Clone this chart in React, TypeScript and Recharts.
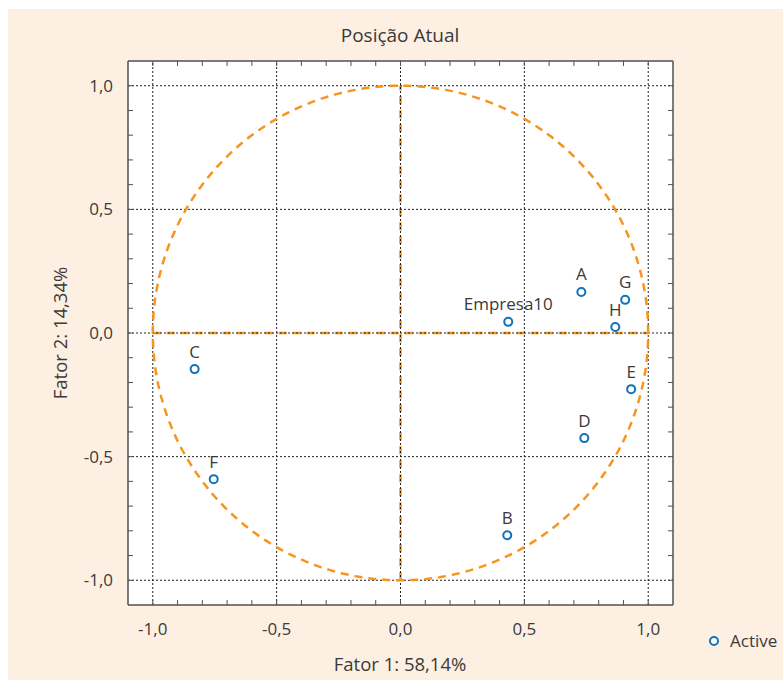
import React from 'react';
import {
  ComposedChart,
  Scatter,
  XAxis,
  YAxis,
  ReferenceLine,
  CartesianGrid,
  LabelList,
} from 'recharts';

// ---- data ----
const POINT_NAMES = ['A', 'G', 'H', 'E', 'D', 'B', 'Empresa10', 'C', 'F'];
const FACTOR1 = [0.73, 0.907, 0.867, 0.931, 0.742, 0.431, 0.435, -0.831, -0.754];
const FACTOR2 = [0.166, 0.134, 0.024, -0.227, -0.425, -0.818, 0.045, -0.146, -0.591];

const MINOR_TICKS = [
  -1.0, -0.9, -0.8, -0.7, -0.6, -0.5, -0.4, -0.3, -0.2, -0.1, 0,
  0.1, 0.2, 0.3, 0.4, 0.5, 0.6, 0.7, 0.8, 0.9, 1.0,
];
const MAJOR_VALUES = [-1.0, -0.5, 0, 0.5, 1.0];
const MAJOR_LABELS = ['-1,0', '-0,5', '0,0', '0,5', '1,0'];

const TITLE = 'Posição Atual';
const X_TITLE = 'Fator 1: 58,14%';
const Y_TITLE = 'Fator 2: 14,34%';
const LEGEND_LABEL = 'Active';

// unit correlation circle (radius 1)
const CIRCLE_STEPS = 240;
const circleData = Array.from({ length: CIRCLE_STEPS + 1 }, (_, i) => {
  const a = (i / CIRCLE_STEPS) * 2 * Math.PI;
  return { x: Math.cos(a), y: Math.sin(a) };
});

const pointData = POINT_NAMES.map((name, i) => ({ name, x: FACTOR1[i], y: FACTOR2[i] }));

const FONT = '"Open Sans", "Noto Sans", sans-serif';
const TEXT = '#3a3a3a';
const BLUE = '#1372b8';
const ORANGE = '#f7941d';
const FRAME = '#505050';
const BG = '#fdf0e3';

const W = 775;
const H = 671;
const MARGIN = { top: 51, right: 109, bottom: 74, left: 119 };

const labelFor = (v: number) => {
  const idx = MAJOR_VALUES.findIndex((m) => Math.abs(m - v) < 1e-6);
  return idx >= 0 ? MAJOR_LABELS[idx] : null;
};

const BottomTick = (props: any) => {
  const { x, y, payload } = props;
  const t = labelFor(payload.value);
  if (!t) return <g />;
  return (
    <text x={x} y={y + 12} textAnchor="middle" fontSize={17} fontFamily={FONT} fill={TEXT}>
      {t}
    </text>
  );
};

const LeftTick = (props: any) => {
  const { x, y, payload } = props;
  const t = labelFor(payload.value);
  if (!t) return <g />;
  return (
    <text x={x} y={y + 6} textAnchor="end" fontSize={17} fontFamily={FONT} fill={TEXT}>
      {t}
    </text>
  );
};

const NoTick = () => <g />;

const OpenCircle = (props: any) => {
  const { cx, cy } = props;
  if (cx == null || cy == null) return <g />;
  return <circle cx={cx} cy={cy} r={4} fill="#fff" stroke={BLUE} strokeWidth={2} />;
};

const NoShape = () => <g />;

export default function App() {
  return (
    <div style={{ position: 'absolute', left: 8, top: 9, width: W, height: H, background: BG }}>
      <ComposedChart width={W} height={H} margin={MARGIN}>
        <CartesianGrid fill="#ffffff" horizontal={false} vertical={false} xAxisId="b" yAxisId="l" />
        <XAxis
          xAxisId="b"
          dataKey="x"
          type="number"
          domain={[-1.1, 1.1]}
          allowDataOverflow
          ticks={MINOR_TICKS}
          interval={0}
          height={1}
          orientation="bottom"
          tickSize={-5}
          tickMargin={23}
          tick={BottomTick}
          axisLine={{ stroke: FRAME, strokeWidth: 1.5 }}
          tickLine={{ stroke: FRAME, strokeWidth: 1 }}
        />
        <XAxis
          xAxisId="t"
          dataKey="x"
          type="number"
          domain={[-1.1, 1.1]}
          allowDataOverflow
          ticks={MINOR_TICKS}
          interval={0}
          height={1}
          orientation="top"
          tickSize={-5}
          tick={NoTick}
          axisLine={{ stroke: FRAME, strokeWidth: 1.5 }}
          tickLine={{ stroke: FRAME, strokeWidth: 1 }}
        />
        <YAxis
          yAxisId="l"
          dataKey="y"
          type="number"
          domain={[-1.1, 1.1]}
          allowDataOverflow
          ticks={MINOR_TICKS}
          interval={0}
          width={1}
          orientation="left"
          tickSize={-5}
          tickMargin={20}
          tick={LeftTick}
          axisLine={{ stroke: FRAME, strokeWidth: 1.5 }}
          tickLine={{ stroke: FRAME, strokeWidth: 1 }}
        />
        <YAxis
          yAxisId="r"
          dataKey="y"
          type="number"
          domain={[-1.1, 1.1]}
          allowDataOverflow
          ticks={MINOR_TICKS}
          interval={0}
          width={1}
          orientation="right"
          tickSize={-5}
          tick={NoTick}
          axisLine={{ stroke: FRAME, strokeWidth: 1.5 }}
          tickLine={{ stroke: FRAME, strokeWidth: 1 }}
        />

        {/* orange axes through origin */}
        <ReferenceLine
          xAxisId="b"
          yAxisId="l"
          segment={[{ x: 0, y: -1 }, { x: 0, y: 1 }]}
          stroke={ORANGE}
          strokeWidth={2.5}
          strokeDasharray="8 6"
        />
        <ReferenceLine
          xAxisId="b"
          yAxisId="l"
          segment={[{ x: -1, y: 0 }, { x: 1, y: 0 }]}
          stroke={ORANGE}
          strokeWidth={2.5}
          strokeDasharray="8 6"
        />

        {/* dotted grid */}
        {MAJOR_VALUES.map((v) => (
          <ReferenceLine
            key={'gx' + v}
            xAxisId="b"
            yAxisId="l"
            x={v}
            stroke="#222"
            strokeWidth={1}
            strokeDasharray="2 2"
          />
        ))}
        {MAJOR_VALUES.map((v) => (
          <ReferenceLine
            key={'gy' + v}
            xAxisId="b"
            yAxisId="l"
            y={v}
            stroke="#222"
            strokeWidth={1}
            strokeDasharray="2 2"
          />
        ))}

        <Scatter
          xAxisId="b"
          yAxisId="l"
          data={circleData}
          dataKey="y"
          shape={NoShape}
          line={{ stroke: ORANGE, strokeWidth: 2.5, strokeDasharray: '8 6', fill: 'none' }}
          lineType="joint"
          isAnimationActive={false}
          legendType="none"
        />
        <Scatter
          xAxisId="b"
          yAxisId="l"
          data={pointData}
          dataKey="y"
          shape={OpenCircle}
          isAnimationActive={false}
        >
          <LabelList
            dataKey="name"
            position="top"
            offset={7}
            fontSize={17}
            fontFamily={FONT}
            fill={TEXT}
          />
        </Scatter>
      </ComposedChart>
      <svg
        width={W}
        height={H}
        style={{ position: 'absolute', left: 0, top: 0, pointerEvents: 'none' }}
      >
        <text x={392} y={33} textAnchor="middle" fontSize={19} fontFamily={FONT} fill={TEXT}>
          {TITLE}
        </text>
        <text x={392} y={662} textAnchor="middle" fontSize={18.5} fontFamily={FONT} fill={TEXT}>
          {X_TITLE}
        </text>
        <text
          transform="translate(59,324) rotate(-90)"
          textAnchor="middle"
          fontSize={18.5}
          fontFamily={FONT}
          fill={TEXT}
        >
          {Y_TITLE}
        </text>
        <circle cx={706} cy={632} r={4} fill="#fff" stroke={BLUE} strokeWidth={2} />
        <text x={722} y={638} fontSize={17} fontFamily={FONT} fill={TEXT}>
          {LEGEND_LABEL}
        </text>
      </svg>
    </div>
  );
}
